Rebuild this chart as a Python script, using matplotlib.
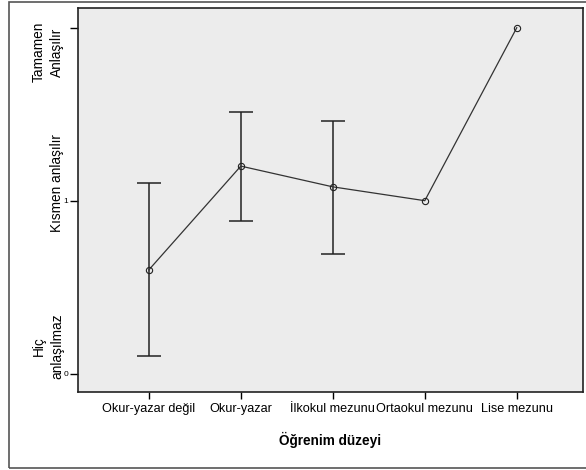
import numpy as np
import matplotlib.pyplot as plt
from matplotlib.patches import Rectangle

plt.rcParams['font.family'] = ['Liberation Sans', 'DejaVu Sans']

kategoriler = ['Okur-yazar değil', 'Okur-yazar', 'İlkokul mezunu', 'Ortaokul mezunu', 'Lise mezunu']
ortalama = [0.60, 1.20, 1.08, 1.00, 2.00]
alt_sinir = [0.10, 0.88, 0.69, np.nan, np.nan]
ust_sinir = [1.10, 1.51, 1.46, np.nan, np.nan]
y_etiketler = ['Hiç\nanlaşılmaz', 'Kısmen anlaşılır', 'Tamamen\nAnlaşılır']
y_etiket_yer = [0.16, 1.10, 1.86]

fig = plt.figure(figsize=(5.86, 4.70), dpi=100)
ax = fig.add_axes([78/586, 1 - 392/470, (583-78)/586, (392-8)/470])
ax.set_facecolor('#ececec')

x = np.arange(len(kategoriler))
ort = np.array(ortalama)
alt = np.array(alt_sinir)
ust = np.array(ust_sinir)
m = ~np.isnan(alt)

# sadece varyansi olan gruplar icin hata cubugu
ax.errorbar(x[m], ort[m], yerr=[ort[m] - alt[m], ust[m] - ort[m]], fmt='none',
            ecolor='#222222', elinewidth=1.1, capsize=8.5, capthick=1.1, zorder=2)
ax.plot(x, ort, color='#333333', lw=0.9, marker='o', ms=4.5, mfc='none',
        mec='#222222', mew=0.8, zorder=3)

ax.set_xlim(-0.77, 4.72)
ax.set_ylim(-0.106, 2.114)
ax.set_xticks(x)
ax.set_xticklabels(kategoriler, fontsize=9.1)
ax.set_yticks([0, 1, 2])
ax.set_yticklabels(['0', '1', ''], fontsize=6)
ax.tick_params(axis='x', length=5, width=1, pad=3)
ax.tick_params(axis='y', length=6, width=1, pad=1)
for s in ax.spines.values():
    s.set_linewidth(1.2)
    s.set_color('#222222')

ax.set_xlabel('Öğrenim düzeyi', fontsize=9.8, fontweight='bold', labelpad=12)

trans = ax.get_yaxis_transform()
for yy, txt in zip(y_etiket_yer, y_etiketler):
    ax.text(-0.027, yy, txt, transform=trans, rotation=90, ha='right', va='center',
            multialignment='center', fontsize=9.8, linespacing=1.4, clip_on=False)

fig.patches.append(Rectangle((9/586, 2/470), 1, 466/470, transform=fig.transFigure,
                             fill=False, edgecolor='#555555', lw=1.2))

fig.savefig('out.png', dpi=100)
